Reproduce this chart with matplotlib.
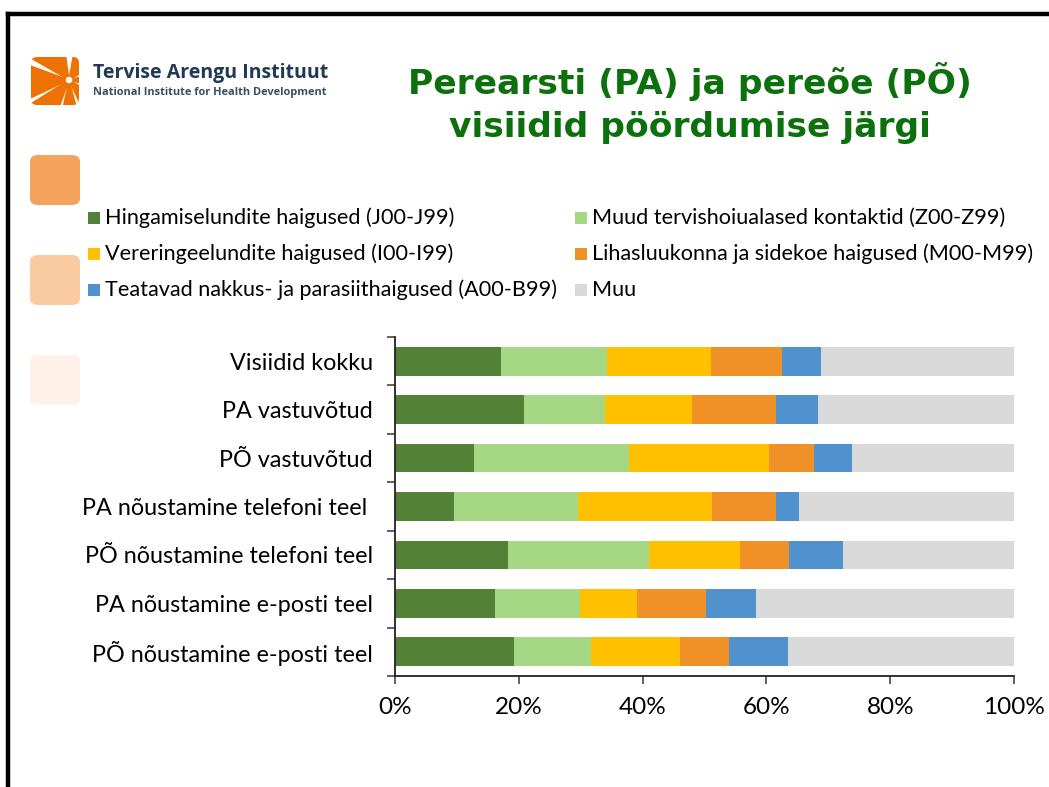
import numpy as np
import matplotlib
matplotlib.use('Agg')
import matplotlib.pyplot as plt
from matplotlib.patches import Rectangle, FancyBboxPatch, Wedge

plt.rcParams['font.family'] = ['Lato', 'DejaVu Sans']

# categories (top to bottom) and shares in percent
rows = ['Visiidid kokku', 'PA vastuvõtud', 'PÕ vastuvõtud',
        'PA nõustamine telefoni teel ', 'PÕ nõustamine telefoni teel',
        'PA nõustamine e-posti teel', 'PÕ nõustamine e-posti teel']

hingamis = [17.1, 20.9, 12.7, 9.6, 18.2, 16.2, 19.3]
muud_kontaktid = [17.1, 13.0, 25.1, 20.0, 22.9, 13.7, 12.3]
vereringe = [16.8, 14.0, 22.6, 21.6, 14.7, 9.2, 14.5]
lihas = [11.5, 13.7, 7.3, 10.3, 7.8, 11.2, 7.8]
nakkus = [6.3, 6.8, 6.2, 3.8, 8.8, 8.1, 9.6]
muu = [31.2, 31.6, 26.1, 34.7, 27.6, 41.6, 36.5]

series = [hingamis, muud_kontaktid, vereringe, lihas, nakkus, muu]
names = ['Hingamiselundite haigused (J00-J99)',
         'Muud tervishoiualased kontaktid (Z00-Z99)',
         'Vereringeelundite haigused (I00-I99)',
         'Lihasluukonna ja sidekoe haigused (M00-M99)',
         'Teatavad nakkus- ja parasiithaigused (A00-B99)',
         'Muu']
colors = ['#538135', '#A5D785', '#FFC000', '#F09128', '#5092CE', '#D9D9D9']

W, H = 1049, 787
fig = plt.figure(figsize=(W / 100, H / 100), dpi=100)

def fx(px):
    return px / W

def fy(py):
    return 1 - py / H

# slide frame
fig.add_artist(plt.Line2D([fx(8), 1], [fy(14), fy(14)], color='black', lw=3.2))
fig.add_artist(plt.Line2D([fx(8), fx(8)], [fy(14), 0], color='black', lw=3.2))

# logo
lax = fig.add_axes([fx(30), fy(106), fx(50), 50 / H])
lax.set_xlim(0, 1)
lax.set_ylim(0, 1)
lax.axis('off')
clip = FancyBboxPatch((0.02, 0.02), 0.96, 0.96, boxstyle='round,pad=0,rounding_size=0.12',
                      transform=lax.transAxes, facecolor='none', edgecolor='none')
lax.add_patch(clip)
for a1, a2 in [(98, 150), (160, 205), (212, 250), (258, 285), (295, 330), (345, 15), (30, 80)]:
    w = Wedge((0.78, 0.52), 1.2, a1, a2, color='#EE7203', width=1.12)
    lax.add_patch(w)
    w.set_clip_path(clip)
fig.text(fx(93), fy(73), 'Tervise Arengu Instituut', fontsize=14, fontweight='bold',
         color='#1E3A55', va='center', ha='left', family=['Open Sans', 'DejaVu Sans'])
fig.text(fx(93), fy(93), 'National Institute for Health Development', fontsize=7.9,
         fontweight='bold', color='#3A4E63', va='center', ha='left', family=['Open Sans', 'DejaVu Sans'])

# decorative squares
for top, col in [(155, '#F5A25C'), (255, '#FACAA0'), (355, '#FDF1E8')]:
    fig.add_artist(FancyBboxPatch((fx(30), fy(top + 50)), fx(50), 50 / H,
                                  boxstyle='round,pad=0,rounding_size=0.008',
                                  transform=fig.transFigure, facecolor=col, edgecolor='none'))

# title
fig.text(fx(690), fy(103), 'Perearsti (PA) ja pereõe (PÕ)\nvisiidid pöördumise järgi',
         ha='center', va='center', fontsize=24.8, fontweight='bold', color='#0C700C',
         linespacing=1.35, family=['DejaVu Sans'])

# legend (manual, two columns)
leg_pos = [(88, 218), (575, 218), (88, 254), (575, 254), (88, 290), (575, 290)]
for (px, py), name, col in zip(leg_pos, names, colors):
    fig.add_artist(Rectangle((fx(px), fy(py + 6)), fx(12), 12 / H, transform=fig.transFigure,
                             facecolor=col, edgecolor='none'))
    fig.text(fx(px + 17), fy(py), name, fontsize=15.6, va='center', ha='left', color='black')

# chart
ax = fig.add_axes([fx(395), fy(676), fx(1014) - fx(395), (676 - 337) / H])
y = np.arange(len(rows))
left = np.zeros(len(rows))
for vals, col in zip(series, colors):
    ax.barh(y, vals, left=left, height=0.59, color=col, edgecolor='none')
    left += np.array(vals)

ax.set_xlim(0, 100)
ax.set_ylim(len(rows) - 0.5, -0.5)
ax.set_xticks(np.arange(0, 101, 20))
ax.set_xticklabels([f'{v}%' for v in range(0, 101, 20)], fontsize=17.5)
ax.set_yticks(y)
ax.set_yticklabels(rows, fontsize=16.8)
ax.set_yticks(np.arange(-0.5, len(rows), 1), minor=True)
ax.tick_params(axis='y', which='major', length=0, pad=16)
ax.tick_params(axis='y', which='minor', length=6, width=1.3, color='#555555')
ax.tick_params(axis='x', length=6, width=1.3, color='#555555', pad=9)
for s in ['top', 'right']:
    ax.spines[s].set_visible(False)
ax.spines['left'].set_color('#222222')
ax.spines['bottom'].set_color('#222222')
ax.spines['left'].set_linewidth(1.3)
ax.spines['bottom'].set_linewidth(1.3)

fig.savefig('out.png', dpi=100)
